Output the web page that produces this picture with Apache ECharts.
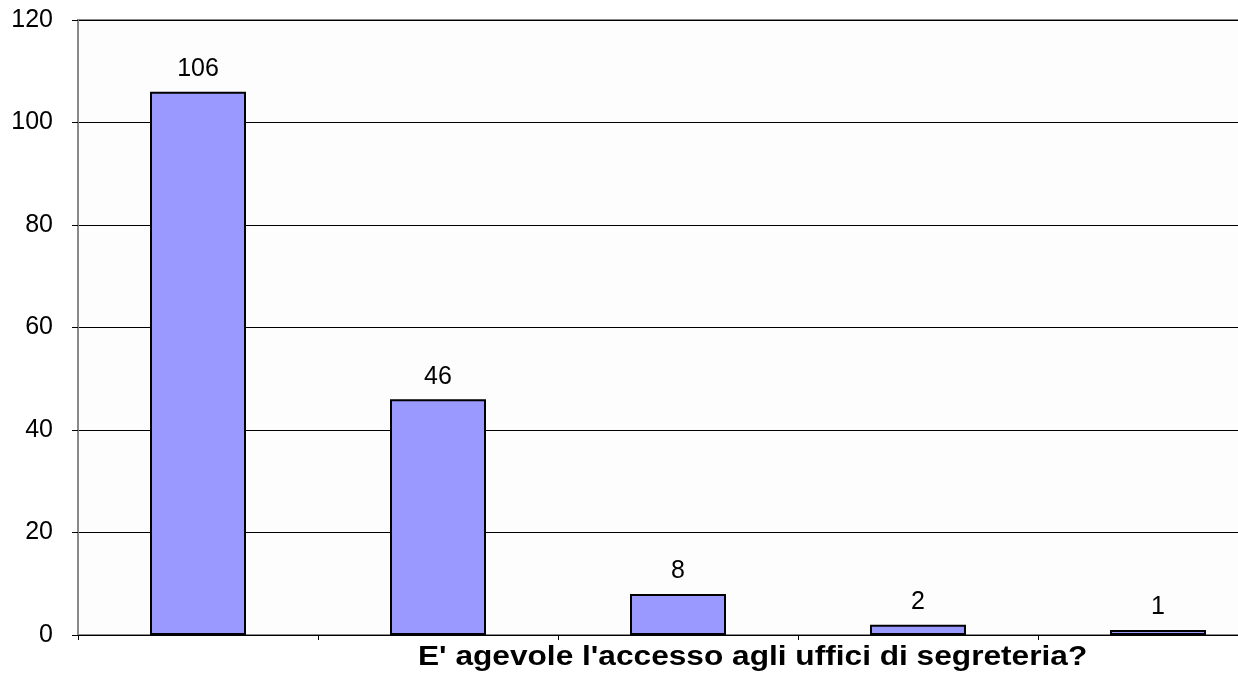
<!DOCTYPE html>
<html>
<head>
<meta charset="utf-8">
<script src="https://cdn.jsdelivr.net/npm/echarts@6/dist/echarts.min.js"></script>
<style>html,body{margin:0;padding:0;background:#fff;overflow:hidden}#c{width:1278px;height:677px}</style>
</head>
<body>
<div id="c"></div>
<script>
const categories = ['A', 'B', 'C', 'D', 'E'];
const values = [106, 46, 8, 2, 1];
const axisTitle = "E' agevole l'accesso agli uffici di segreteria?";
const yMin = 0, yMax = 120, yStep = 20;

const chart = echarts.init(document.getElementById('c'), null, {renderer: 'canvas'});
chart.setOption({
  animation: false,
  backgroundColor: '#ffffff',
  grid: {left: 78, top: 20, right: 0, bottom: 42, show: true, backgroundColor: '#fdfdfd', borderColor: '#8a8a8a', borderWidth: 2},
  xAxis: {
    type: 'category',
    data: categories,
    axisLine: {show: true, lineStyle: {color: '#000', width: 1}},
    axisTick: {show: true, length: 5, lineStyle: {color: '#000'}},
    axisLabel: {show: false},
    splitLine: {show: false}
  },
  yAxis: {
    type: 'value',
    min: yMin, max: yMax, interval: yStep,
    axisLine: {show: true, lineStyle: {color: '#8a8a8a', width: 2}},
    axisTick: {show: true, length: 6, lineStyle: {color: '#000'}},
    axisLabel: {color: '#000', fontSize: 25, fontFamily: 'Liberation Sans, Arial, sans-serif', margin: 25},
    splitLine: {show: true, lineStyle: {color: '#000', width: 1}}
  },
  series: [{
    type: 'bar',
    data: values,
    barWidth: '40%',
    itemStyle: {color: '#9999ff', borderColor: '#000', borderWidth: 2},
    label: {show: true, position: 'top', distance: 10, color: '#000', fontSize: 25, fontFamily: 'Liberation Sans, Arial, sans-serif'}
  }],
  graphic: [{
    type: 'text',
    x: 418, y: 643, scaleX: 1.13,
    style: {text: axisTitle, fill: '#000', font: 'bold 28px "Liberation Sans", Arial, sans-serif', textAlign: 'left', textVerticalAlign: 'top'}
  }]
});
</script>
</body>
</html>
